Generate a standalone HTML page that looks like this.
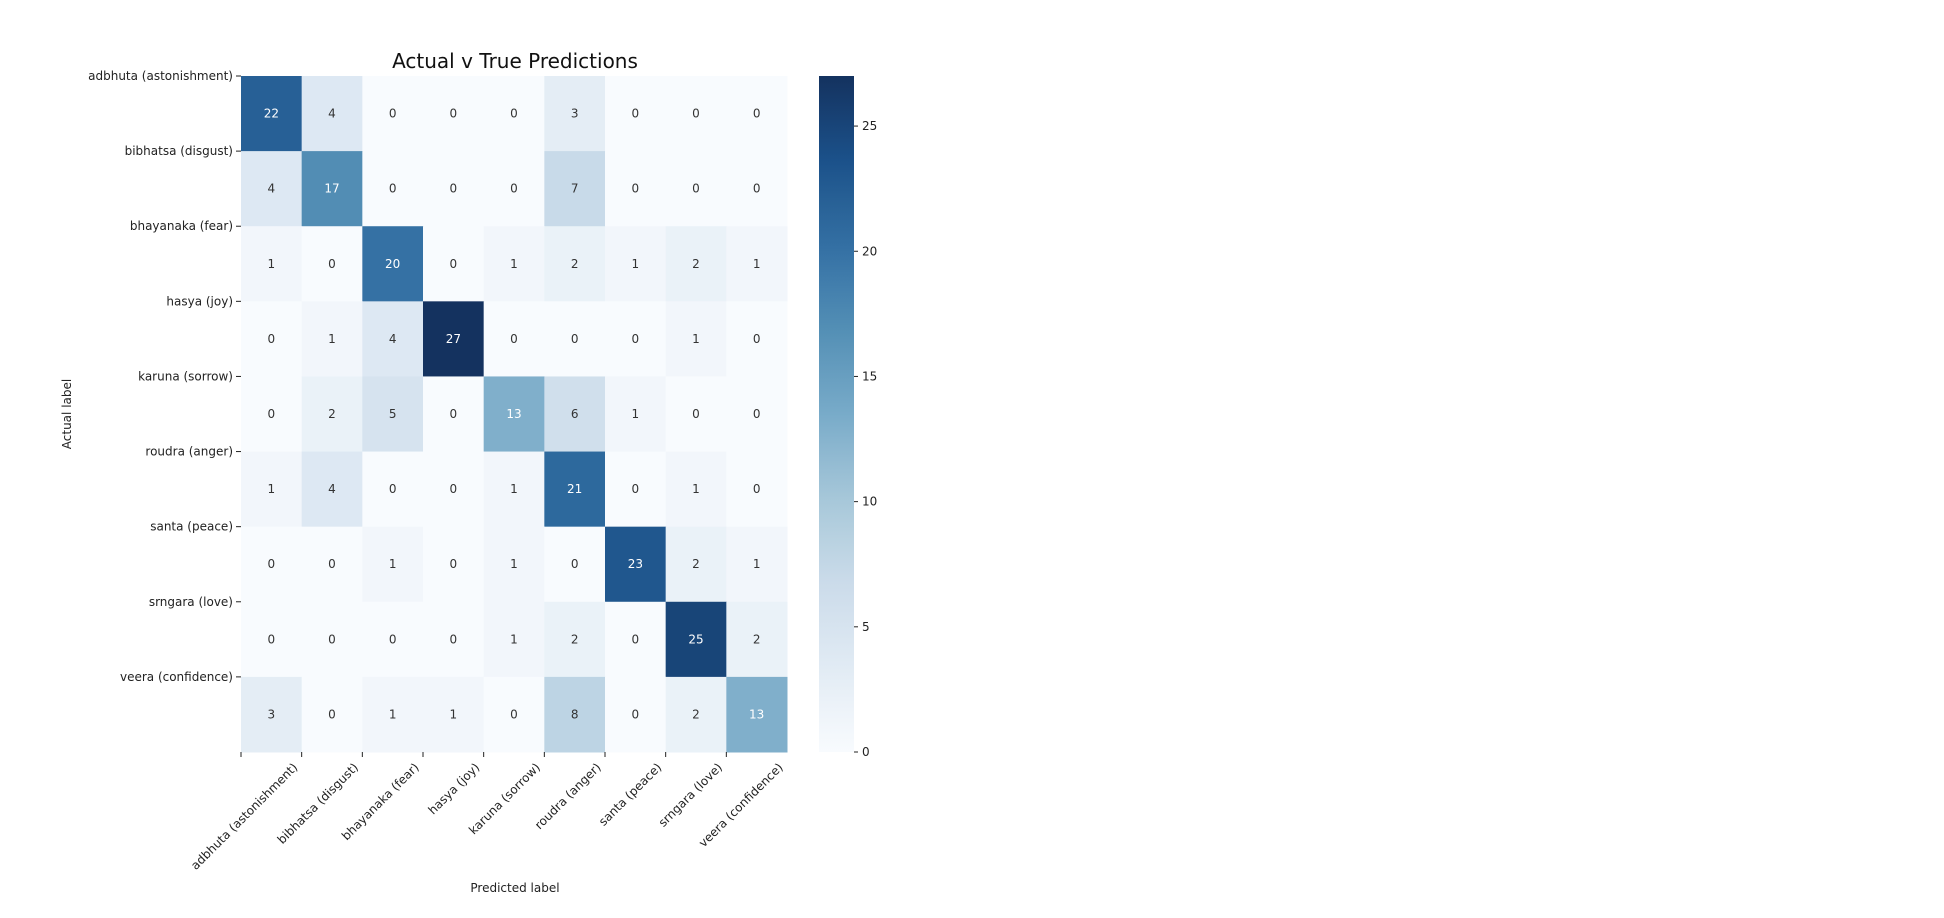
<!DOCTYPE html>
<html><head><meta charset="utf-8"><style>
html,body{margin:0;padding:0;background:#fff;}
svg{display:block;font-family:"DejaVu Sans","Liberation Sans",sans-serif;}
</style></head><body>
<svg id="chart" width="1944" height="918" viewBox="0 0 1944 918">
<defs>
<linearGradient id="cbar" x1="0" y1="1" x2="0" y2="0"></linearGradient>
</defs>
<text x="515" y="68" font-size="20" text-anchor="middle" fill="#111">Actual v True Predictions</text>
<g id="cells"></g>
<g id="axes"></g>
<rect x="819" y="76" width="35" height="676" fill="url(#cbar)"/>
<g id="cbticks"></g>
<text x="0" y="0" font-size="12" text-anchor="middle" fill="#222" transform="translate(71,414) rotate(-90)">Actual label</text>
<text x="515" y="892" font-size="12" text-anchor="middle" fill="#222">Predicted label</text>
</svg>
<script>
const labels = ["adbhuta (astonishment)","bibhatsa (disgust)","bhayanaka (fear)","hasya (joy)","karuna (sorrow)","roudra (anger)","santa (peace)","srngara (love)","veera (confidence)"];
const matrix = [
[22,4,0,0,0,3,0,0,0],
[4,17,0,0,0,7,0,0,0],
[1,0,20,0,1,2,1,2,1],
[0,1,4,27,0,0,0,1,0],
[0,2,5,0,13,6,1,0,0],
[1,4,0,0,1,21,0,1,0],
[0,0,1,0,1,0,23,2,1],
[0,0,0,0,1,2,0,25,2],
[3,0,1,1,0,8,0,2,13]
];
const cbTicks = [0,5,10,15,20,25];
const vmax = 27;

const NS="http://www.w3.org/2000/svg";
const L=241,T=76,W=546,H=676,n=labels.length,cw=W/n,ch=H/n;
const stops=["#f7fbff","#deebf7","#c6dbef","#9ecae1","#6baed6","#4292c6","#2171b5","#08519c","#08306b"].map(h=>[parseInt(h.slice(1,3),16),parseInt(h.slice(3,5),16),parseInt(h.slice(5,7),16)]);
function desat(c,p){
 let [r,g,b]=c.map(x=>x/255);const mx=Math.max(r,g,b),mn=Math.min(r,g,b);let l=(mx+mn)/2,h=0,s=0;
 if(mx!==mn){const d=mx-mn;s=l>0.5?d/(2-mx-mn):d/(mx+mn);
  if(mx===r)h=(g-b)/d+(g<b?6:0);else if(mx===g)h=(b-r)/d+2;else h=(r-g)/d+4;h/=6;}
 s*=p;
 function hue(p1,q,t){if(t<0)t+=1;if(t>1)t-=1;if(t<1/6)return p1+(q-p1)*6*t;if(t<1/2)return q;if(t<2/3)return p1+(q-p1)*(2/3-t)*6;return p1;}
 if(s===0)return [l,l,l].map(x=>Math.round(x*255));
 const q=l<0.5?l*(1+s):l+s-l*s,p1=2*l-q;
 return [hue(p1,q,h+1/3),hue(p1,q,h),hue(p1,q,h-1/3)].map(x=>Math.round(x*255));
}
function color(v){let t=Math.max(0,Math.min(1,v/vmax))*8;let i=Math.min(7,Math.floor(t)),f=t-i;const c=stops[i].map((a,k)=>Math.round(a+(stops[i+1][k]-a)*f));return desat(c,0.75);}
function lum(c){const s=c.map(x=>{x/=255;return x<=0.03928?x/12.92:Math.pow((x+0.055)/1.055,2.4)});return 0.2126*s[0]+0.7152*s[1]+0.0722*s[2];}
function x(j){return L+j*cw;}
function y(i){return T+i*ch;}
function yv(v){return T+H-v/vmax*H;}
const grad=document.getElementById('cbar');
for(let k=0;k<=16;k++){const s=document.createElementNS(NS,'stop');s.setAttribute('offset',k/16);s.setAttribute('stop-color','rgb('+color(vmax*k/16).join(',')+')');grad.appendChild(s);}
const cells=document.getElementById('cells');
matrix.forEach((row,i)=>row.forEach((v,j)=>{
 const c=color(v);
 const r=document.createElementNS(NS,'rect');
 r.setAttribute('x',x(j));r.setAttribute('y',y(i));r.setAttribute('width',cw+0.5);r.setAttribute('height',ch+0.5);
 r.setAttribute('fill','rgb('+c.join(',')+')');
 
 
 cells.appendChild(r);
 const t=document.createElementNS(NS,'text');
 t.setAttribute('x',x(j)+cw/2);t.setAttribute('y',y(i)+ch/2+4);
 t.setAttribute('font-size','12');t.setAttribute('text-anchor','middle');
 t.setAttribute('fill',lum(c)>0.408?'#333333':'#ffffff');
 t.textContent=v;
 
 
 cells.appendChild(t);
}));
const axes=document.getElementById('axes');
labels.forEach((lab,i)=>{
 const tk=document.createElementNS(NS,'line');
 tk.setAttribute('x1',L-5);tk.setAttribute('x2',L);tk.setAttribute('y1',y(i));tk.setAttribute('y2',y(i));tk.setAttribute('stroke','#222');
 
 
 axes.appendChild(tk);
 const t=document.createElementNS(NS,'text');
 t.setAttribute('x',L-8);t.setAttribute('y',y(i)+4);t.setAttribute('font-size','12');t.setAttribute('text-anchor','end');t.setAttribute('fill','#222');
 t.textContent=lab;
 
 
 axes.appendChild(t);
 const xt=document.createElementNS(NS,'line');
 xt.setAttribute('x1',x(i));xt.setAttribute('x2',x(i));xt.setAttribute('y1',T+H);xt.setAttribute('y2',T+H+5);xt.setAttribute('stroke','#222');
 
 
 axes.appendChild(xt);
 const xl=document.createElementNS(NS,'text');
 const ax=x(i)+cw/2+27,ay=T+H+16;
 xl.setAttribute('x',ax);xl.setAttribute('y',ay);xl.setAttribute('font-size','12');xl.setAttribute('text-anchor','end');xl.setAttribute('fill','#222');
 xl.setAttribute('transform','rotate(-45 '+ax+' '+ay+')');
 xl.textContent=lab;
 
 
 axes.appendChild(xl);
});
const cb=document.getElementById('cbticks');
cbTicks.forEach(v=>{
 const l=document.createElementNS(NS,'line');
 l.setAttribute('x1',854);l.setAttribute('x2',858);l.setAttribute('y1',yv(v));l.setAttribute('y2',yv(v));l.setAttribute('stroke','#222');
 
 
 cb.appendChild(l);
 const t=document.createElementNS(NS,'text');
 t.setAttribute('x',862);t.setAttribute('y',yv(v)+4);t.setAttribute('font-size','12');t.setAttribute('fill','#222');
 t.textContent=v;
 
 
 cb.appendChild(t);
});
</script>
</body></html>
